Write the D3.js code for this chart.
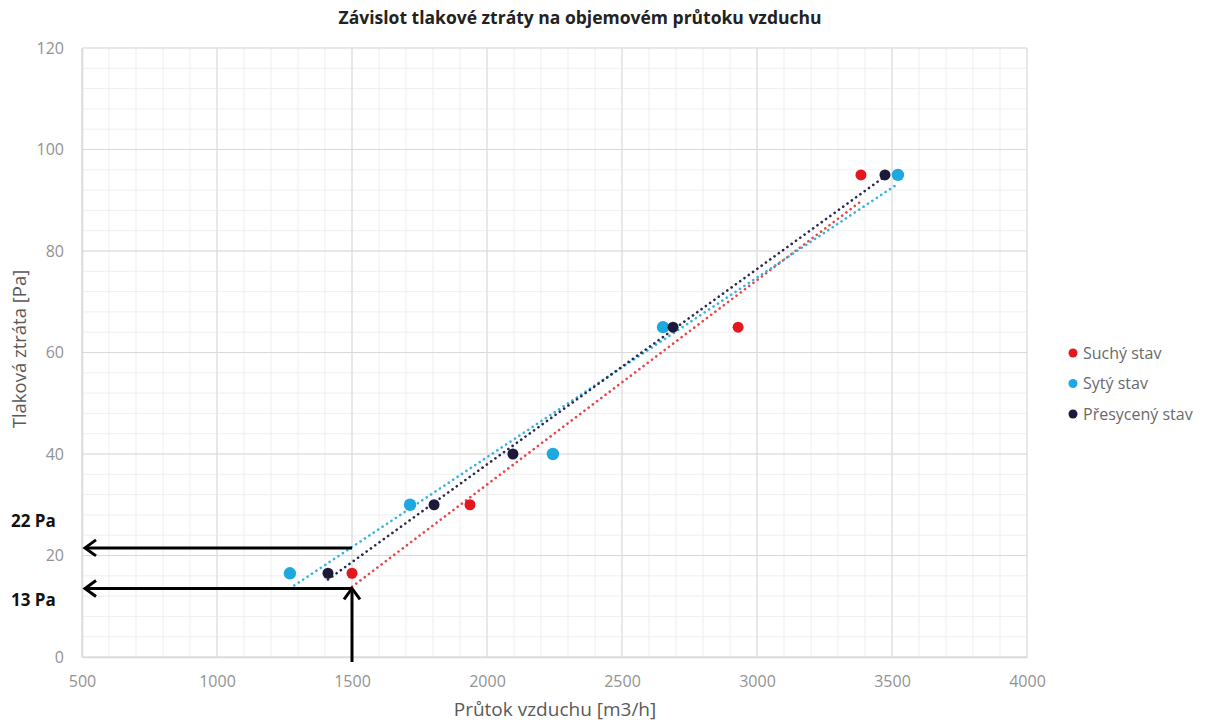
<!DOCTYPE html>
<html><head><meta charset="utf-8">
<script src="https://cdn.jsdelivr.net/npm/d3@7"></script>
<style>body{margin:0;background:#fff} svg{font-family:"Open Sans",Lato,sans-serif}</style>
</head><body><svg id="c" width="1215" height="722"></svg>
<script>
// ---- data ----
const seriesNames = ["Suchý stav", "Sytý stav", "Přesycený stav"];
const suchyX = [1500, 1937, 2930, 3385];
const suchyY = [16.5, 30, 65, 95];
const sytyX = [1270, 1715, 2244, 2652, 3522];
const sytyY = [16.5, 30, 40, 65, 95];
const presycenyX = [1411, 1804, 2096, 2689, 3474];
const presycenyY = [16.5, 30, 40, 65, 95];
const xTicks = [500, 1000, 1500, 2000, 2500, 3000, 3500, 4000];
const yTicks = [0, 20, 40, 60, 80, 100, 120];
const arrowFlow = 1500;
const arrowLevels = [21.5, 13.5];
const arrowLabels = ["22 Pa", "13 Pa"];
const titleText = "Závislot tlakové ztráty na objemovém průtoku vzduchu";
const xTitle = "Průtok vzduchu [m3/h]";
const yTitle = "Tlaková ztráta [Pa]";

// ---- styles ----
const colors = ["#e3171d", "#1ea8e0", "#1c1a3c"];
const trendColors = ["#e5464c", "#35b3e3", "#2a2950"];
const radii = [5.5, 6.2, 5.5];

const W = 1215, H = 722;
const m = {l: 82, r: 188, t: 48, b: 65};
const svg = d3.select("#c");
const x = d3.scaleLinear().domain([500, 4000]).range([m.l, W - m.r]);
const y = d3.scaleLinear().domain([0, 120]).range([H - m.b, m.t]);

const series = [[suchyX, suchyY], [sytyX, sytyY], [presycenyX, presycenyY]].map((s, i) => ({
  name: seriesNames[i], color: colors[i], tcolor: trendColors[i], r: radii[i],
  pts: s[0].map((v, j) => ({x: v, y: s[1][j]}))
}));

// minor grid
const minorX = d3.range(500, 4001, 100), minorY = d3.range(0, 121, 4);
svg.append("g").selectAll("line").data(minorX).join("line")
  .attr("x1", d => x(d)).attr("x2", d => x(d)).attr("y1", y(0)).attr("y2", y(120))
  .attr("stroke", "#efefef").attr("stroke-width", 1);
svg.append("g").selectAll("line").data(minorY).join("line")
  .attr("y1", d => y(d)).attr("y2", d => y(d)).attr("x1", x(500)).attr("x2", x(4000))
  .attr("stroke", "#efefef").attr("stroke-width", 1);
// major grid
svg.append("g").selectAll("line").data(xTicks).join("line")
  .attr("x1", d => x(d)).attr("x2", d => x(d)).attr("y1", y(0)).attr("y2", y(120))
  .attr("stroke", "#d9d9d9").attr("stroke-width", 1);
svg.append("g").selectAll("line").data(yTicks).join("line")
  .attr("y1", d => y(d)).attr("y2", d => y(d)).attr("x1", x(500)).attr("x2", x(4000))
  .attr("stroke", "#d9d9d9").attr("stroke-width", 1);

// axes
const xa = svg.append("g").attr("transform", `translate(0,${y(0)})`)
  .call(d3.axisBottom(x).tickValues(xTicks).tickSize(0).tickPadding(19).tickFormat(d3.format("d")));
const ya = svg.append("g").attr("transform", `translate(${x(500)},0)`)
  .call(d3.axisLeft(y).tickValues(yTicks).tickSize(0).tickPadding(18).tickFormat(d3.format("d")));
[xa, ya].forEach(a => {
  a.select(".domain").attr("stroke", "#d9d9d9").attr("stroke-width", 1.5);
  a.selectAll("text").attr("fill", "#929292").style("font-size", "16px").style("font-family", "Open Sans");
});

// trendlines (linear least squares)
series.forEach(s => {
  const mx = d3.mean(s.pts, p => p.x), my = d3.mean(s.pts, p => p.y);
  const b = d3.sum(s.pts, p => (p.x - mx) * (p.y - my)) / d3.sum(s.pts, p => (p.x - mx) ** 2);
  const a = my - b * mx;
  const [x0, x1] = d3.extent(s.pts, p => p.x);
  svg.append("line")
    .attr("x1", x(x0)).attr("y1", y(a + b * x0)).attr("x2", x(x1)).attr("y2", y(a + b * x1))
    .attr("stroke", s.tcolor).attr("stroke-width", 2.6).attr("stroke-dasharray", "0.1 5.2")
    .attr("stroke-linecap", "round");
});

// arrows
const ag = svg.append("g").attr("stroke", "#000").attr("stroke-width", 3).attr("fill", "none")
  .attr("stroke-linecap", "butt").attr("stroke-linejoin", "miter");
arrowLevels.forEach((lv, i) => {
  const yy = y(lv), xl = x(500) + 3;
  ag.append("line").attr("x1", x(arrowFlow)).attr("x2", xl + 2).attr("y1", yy).attr("y2", yy);
  ag.append("path").attr("d", `M${xl + 11},${yy - 8} L${xl},${yy} L${xl + 11},${yy + 8}`);
  svg.append("text").attr("x", 11).attr("y", yy + (i === 0 ? -21 : 18))
    .text(arrowLabels[i]).attr("font-size", 17).attr("font-weight", 700).attr("fill", "#111");
});
{
  const yTop = y(arrowLevels[1]), xv = x(arrowFlow);
  ag.append("line").attr("x1", xv).attr("x2", xv).attr("y1", y(0) + 5).attr("y2", yTop + 2);
  ag.append("path").attr("d", `M${xv - 8},${yTop + 11} L${xv},${yTop} L${xv + 8},${yTop + 11}`);
}

// points
series.forEach(s => {
  svg.append("g").selectAll("circle").data(s.pts).join("circle")
    .attr("cx", d => x(d.x)).attr("cy", d => y(d.y)).attr("r", s.r).attr("fill", s.color);
});

// titles
svg.append("text").attr("x", 580).attr("y", 24).attr("text-anchor", "middle")
  .attr("font-size", 17.5).attr("font-weight", 700).attr("fill", "#222").text(titleText);
svg.append("text").attr("x", 555).attr("y", 716).attr("text-anchor", "middle")
  .attr("font-size", 19).attr("fill", "#595959").text(xTitle);
svg.append("text").attr("transform", `translate(26,349) rotate(-90)`)
  .attr("text-anchor", "middle").attr("font-size", 18.5).attr("fill", "#595959").text(yTitle);

// legend
const lg = svg.append("g").attr("transform", "translate(1073,353)");
series.forEach((s, i) => {
  lg.append("circle").attr("cx", 0).attr("cy", i * 30.5).attr("r", 4.5).attr("fill", s.color);
  lg.append("text").attr("x", 10).attr("y", i * 30.5 + 5.5).attr("font-size", 16)
    .attr("fill", "#6a6a6a").text(s.name);
});
</script></body></html>
